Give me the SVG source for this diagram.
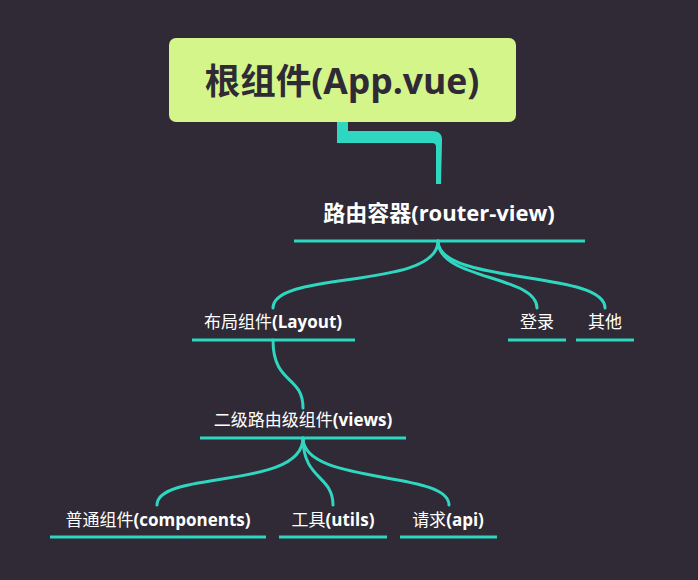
<svg xmlns="http://www.w3.org/2000/svg" width="698" height="580" viewBox="0 0 698 580">
<style>
.bg{fill:#2f2a35}
.ul{stroke:#2fd6c0;stroke-width:3;fill:none}
.br{stroke:#2fd6c0;stroke-width:3;fill:none;stroke-linecap:round}
.t{fill:#ffffff;font-family:"Noto Sans CJK SC","Open Sans",sans-serif;font-size:17px;text-anchor:middle}
.t tspan.l{font-family:"Open Sans","Noto Sans CJK SC",sans-serif;font-weight:bold}
</style>
<rect class="bg" x="0" y="0" width="698" height="580"/>
<g id="connectors">
<path d="M337,122 L348,122 L348,131 L432,131 Q443,131 442,142 L441,184 L436,184 L436,147 Q436,143 432,143 L337,143 Z" fill="#2fd6c0"/>
<path class="br" d="M438,241 C438,290 273,270 273,308"/>
<path class="br" d="M438,241 C438,280 537,275 537,308"/>
<path class="br" d="M438,241 C438,285 605,270 605,308"/>
<path class="br" d="M273,340 C273,385 303,375 303,408"/>
<path class="br" d="M303,438 C303,490 157,470 157,505"/>
<path class="br" d="M303,438 C303,480 333,475 333,505"/>
<path class="br" d="M303,438 C303,485 449,470 449,505"/>
</g>
<g id="root">
<rect x="169" y="38" width="347" height="84" rx="7" fill="#d3f58a"/>
<text x="342" y="94" fill="#2f2a35" font-family="'Open Sans','Noto Sans CJK SC',sans-serif" font-size="35.5" font-weight="bold" text-anchor="middle"><tspan font-family="'Noto Sans CJK SC',sans-serif">根组件</tspan>(App.vue)</text>
</g>
<g id="router-view">
<text x="439" y="221" fill="#ffffff" font-family="'Open Sans','Noto Sans CJK SC',sans-serif" font-size="22" font-weight="bold" text-anchor="middle"><tspan font-family="'Noto Sans CJK SC',sans-serif">路由容器</tspan>(router-view)</text>
<line class="ul" x1="294" y1="241" x2="585" y2="241"/>
</g>
<g id="layout">
<text class="t" x="273" y="328">布局组件<tspan class="l">(Layout)</tspan></text>
<line class="ul" x1="192" y1="340" x2="355" y2="340"/>
</g>
<g id="login">
<text class="t" x="537" y="328">登录</text>
<line class="ul" x1="508" y1="340" x2="566" y2="340"/>
</g>
<g id="other">
<text class="t" x="605" y="328">其他</text>
<line class="ul" x1="576" y1="340" x2="634" y2="340"/>
</g>
<g id="views">
<text class="t" x="303" y="426">二级路由级组件<tspan class="l">(views)</tspan></text>
<line class="ul" x1="200" y1="438" x2="406" y2="438"/>
</g>
<g id="components">
<text class="t" x="158" y="526">普通组件<tspan class="l">(components)</tspan></text>
<line class="ul" x1="50" y1="537" x2="266" y2="537"/>
</g>
<g id="utils">
<text class="t" x="333" y="526">工具<tspan class="l">(utils)</tspan></text>
<line class="ul" x1="279" y1="537" x2="387" y2="537"/>
</g>
<g id="api">
<text class="t" x="448" y="526">请求<tspan class="l">(api)</tspan></text>
<line class="ul" x1="400" y1="537" x2="497" y2="537"/>
</g>
</svg>
